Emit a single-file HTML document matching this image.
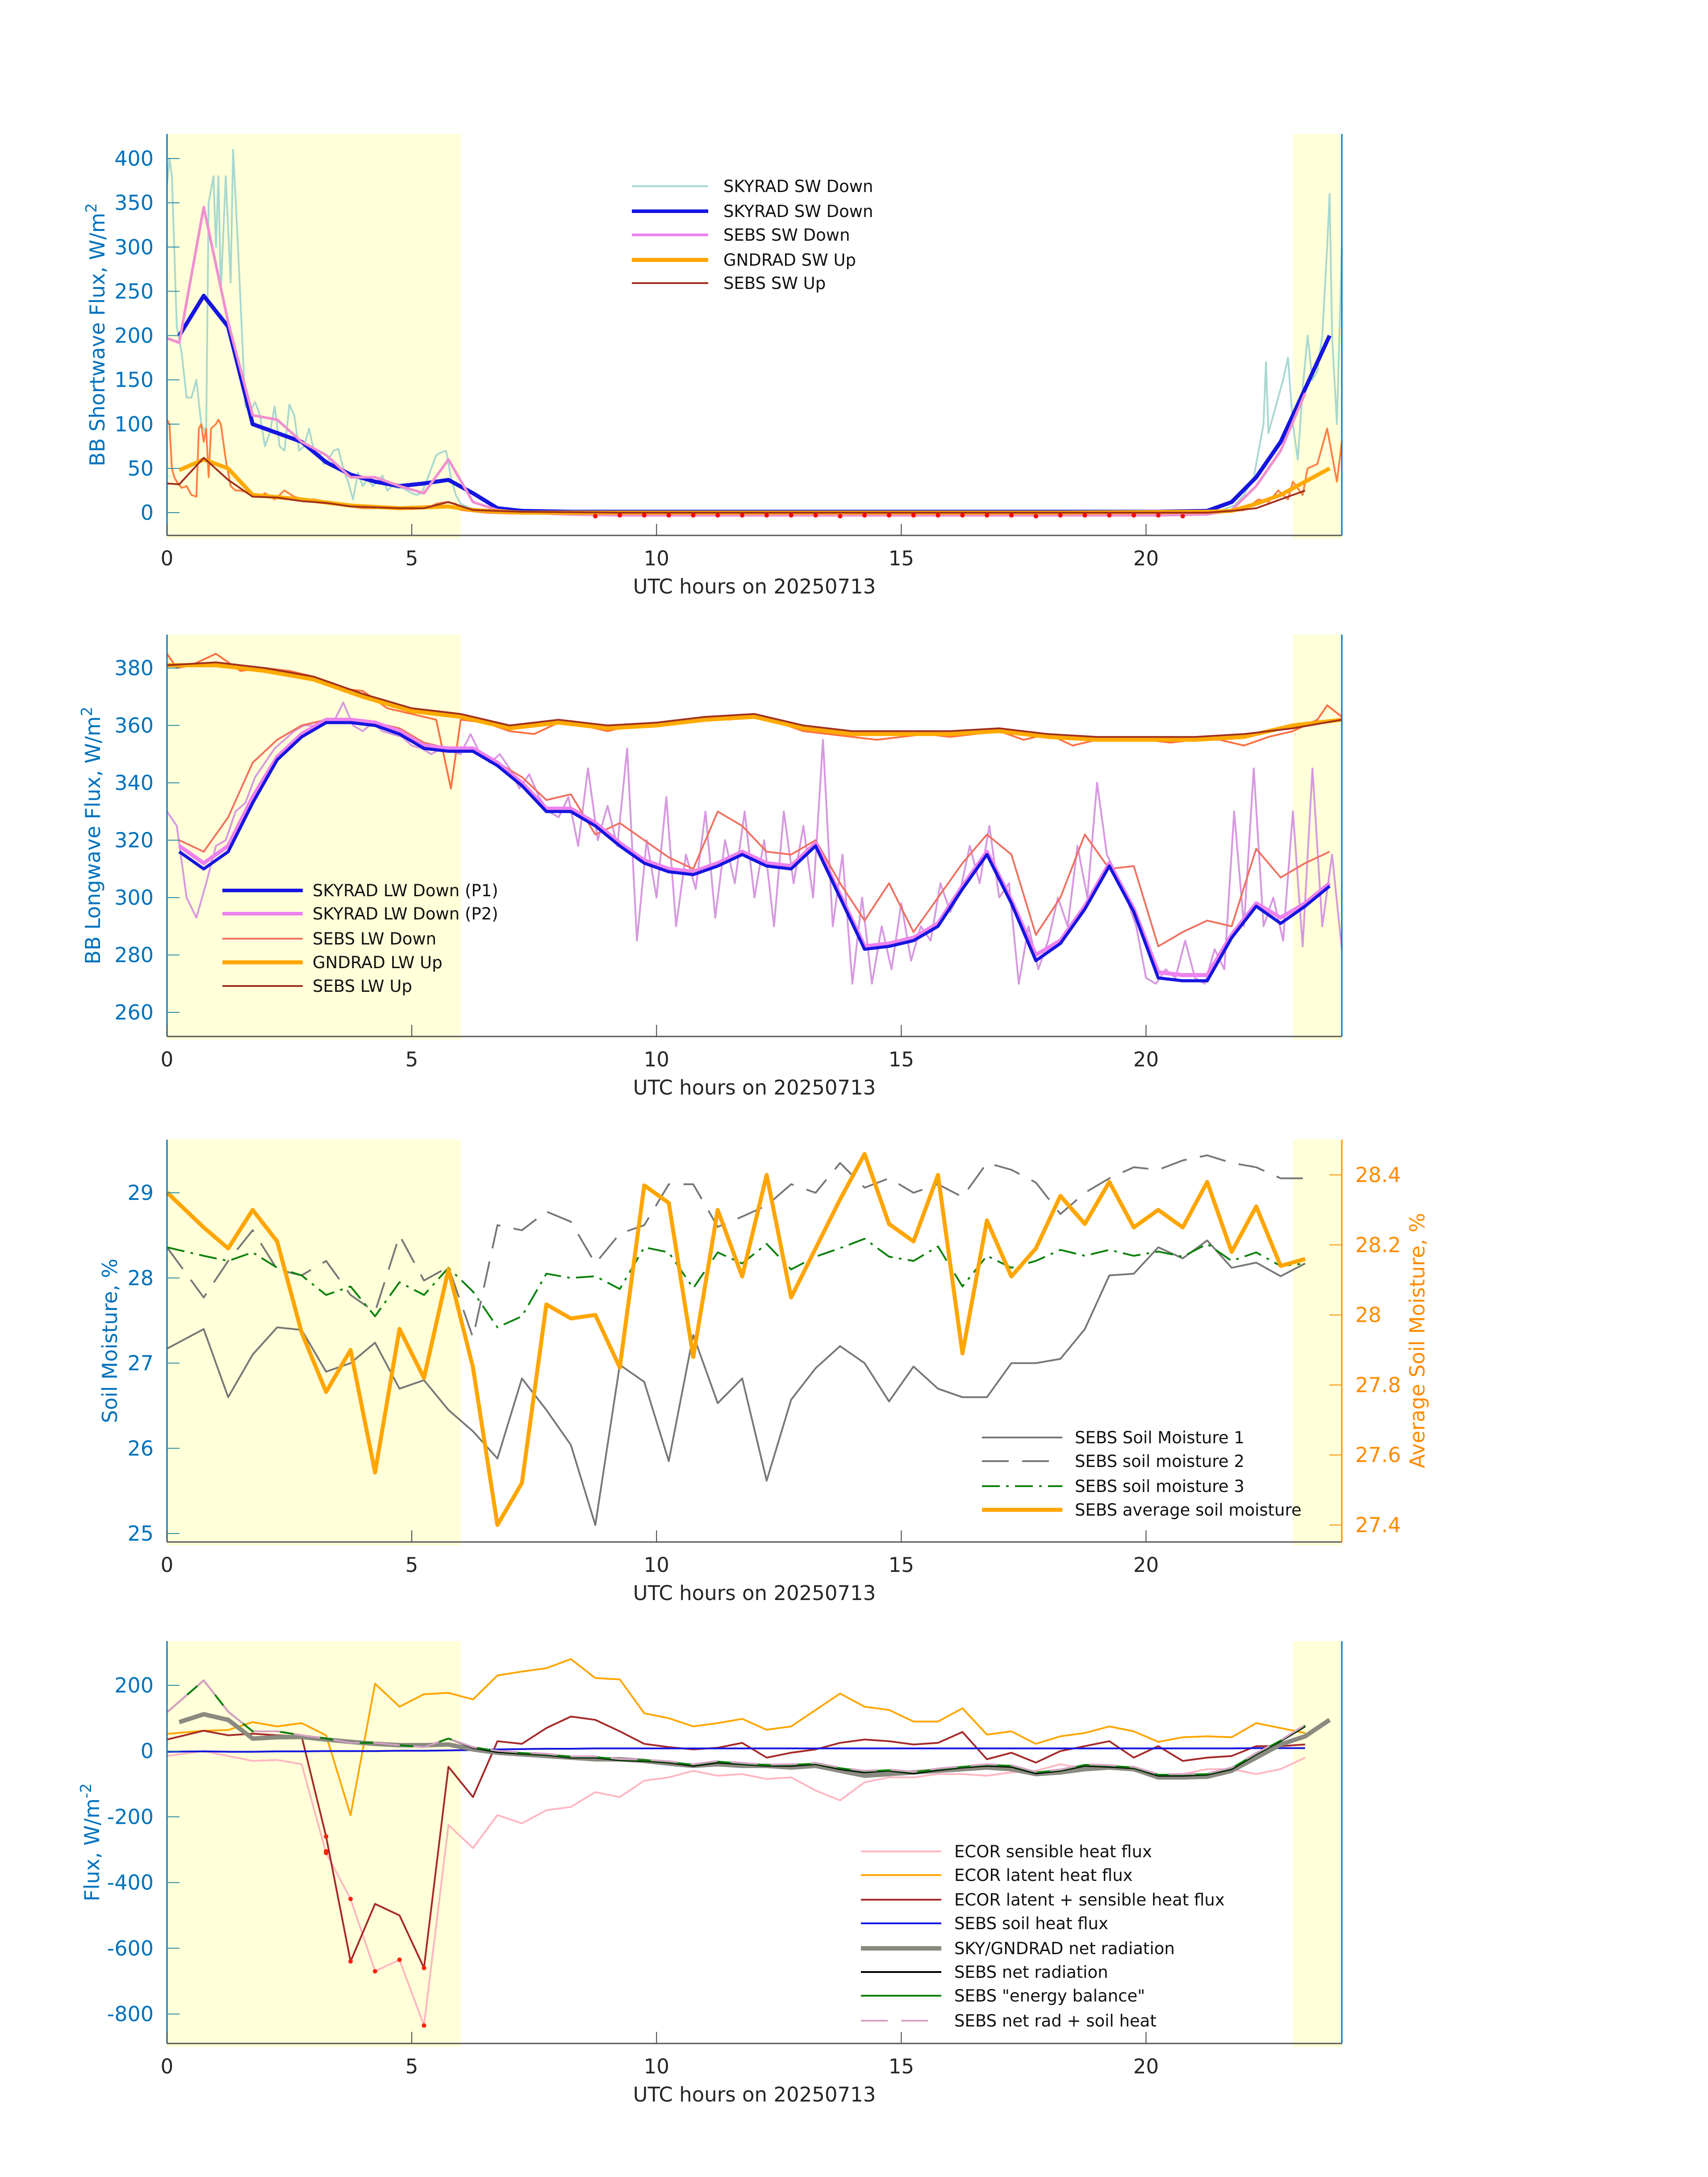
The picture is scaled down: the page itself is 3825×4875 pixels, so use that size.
<!DOCTYPE html>
<html><head><meta charset="utf-8"><style>
html,body{margin:0;padding:0;background:#fff;}
svg{display:block;font-family:"DejaVu Sans","Liberation Sans",sans-serif;}
</style></head><body>
<svg id="fig" xmlns="http://www.w3.org/2000/svg" width="3825" height="4875" viewBox="0 0 3825 4875"></svg>
<script>
// ---------- shared ----------
const xTicks = [0,5,10,15,20];
const tHalf = [0,0.75,1.25,1.75,2.25,2.75,3.25,3.75,4.25,4.75,5.25,5.75,6.25,6.75,7.25,7.75,8.25,8.75,9.25,9.75,10.25,10.75,11.25,11.75,12.25,12.75,13.25,13.75,14.25,14.75,15.25,15.75,16.25,16.75,17.25,17.75,18.25,18.75,19.25,19.75,20.25,20.75,21.25,21.75,22.25,22.75,23.25];

// ---------- panel 1 (shortwave) ----------
const p1YTicks = [0,50,100,150,200,250,300,350,400];
const swT = [0.25,0.75,1.25,1.75,2.25,2.75,3.25,3.75,4.25,4.75,5.25,5.75,6.25,6.75,7.25,8.25,9.25,10.25,11.25,12.25,13.25,14.25,15.25,16.25,17.25,18.25,19.25,20.25,21.25,21.75,22.25,22.75,23.25,23.75];
const skySwDown = [200,245,210,100,90,80,57,43,35,30,33,37,22,5,2,1,1,1,1,1,1,1,1,1,1,1,1,1,2,12,40,80,140,200];
const sebsSwDownT = [0,0.25,0.75,1.25,1.75,2.25,2.75,3.25,3.75,4.25,4.75,5.25,5.75,6.25,6.75,7.25,8.25,9.25,10.25,12.25,14.25,16.25,18.25,20.25,21.25,21.75,22.25,22.75,23.25];
const sebsSwDown = [197,192,345,215,110,105,80,65,40,40,30,22,60,12,3,0,-2,-3,-3,-3,-3,-3,-3,-3,-2,3,30,70,135];
const gndSwUpT = [0.25,0.75,1.25,1.75,2.75,3.75,4.75,5.75,6.25,7.25,9.25,12.25,15.25,18.25,21.25,21.75,22.25,22.75,23.25,23.75];
const gndSwUp = [48,60,50,20,15,8,5,7,3,0,0,0,0,0,1,2,10,20,35,50];
const sebsSwUpT = [0,0.25,0.75,1.25,1.75,2.25,2.75,3.25,3.75,4.25,4.75,5.25,5.75,6.25,7.25,9.25,12.25,15.25,18.25,21.25,21.75,22.25,22.75,23.25];
const sebsSwUp = [33,32,62,37,18,17,13,11,7,6,5,5,12,3,1,0,0,0,0,0,2,5,15,25];
const skyFineT = [0,0.05,0.1,0.2,0.3,0.4,0.5,0.6,0.7,0.8,0.85,0.95,1.0,1.05,1.1,1.2,1.3,1.35,1.45,1.55,1.6,1.7,1.8,1.9,2.0,2.1,2.2,2.3,2.4,2.5,2.6,2.7,2.8,2.9,3.0,3.1,3.2,3.3,3.4,3.5,3.6,3.7,3.8,3.9,4.0,4.1,4.2,4.3,4.4,4.5,4.6,4.7,4.8,4.9,5.0,5.1,5.2,5.3,5.5,5.6,5.7,5.8,5.9,6.0,6.2,6.5,7,10,15,20,21.5,21.8,22.0,22.2,22.4,22.45,22.5,22.6,22.7,22.8,22.9,23.0,23.1,23.2,23.3,23.4,23.5,23.6,23.7,23.75,23.8,23.9,24];
const skyFine = [370,400,380,210,180,130,130,150,100,90,350,380,300,380,250,380,260,410,300,180,120,115,125,110,75,90,120,75,70,122,110,70,75,95,70,70,55,60,70,72,50,35,15,45,30,38,30,35,42,25,30,28,28,25,22,20,22,35,65,68,70,40,20,10,5,3,1,1,1,1,2,8,20,40,100,170,90,110,130,150,175,100,60,140,200,150,160,200,300,360,200,100,300];
const sebsUpFineT = [0,0.05,0.1,0.15,0.2,0.3,0.4,0.5,0.6,0.65,0.7,0.75,0.8,0.85,0.9,1.0,1.05,1.1,1.2,1.3,1.4,1.5,1.7,1.9,2.0,2.2,2.4,2.6,2.8,3,3.3,3.6,4,4.5,5,5.3,5.5,5.7,5.9,6.0,6.5,7,10,15,20,21.5,22,22.3,22.5,22.7,22.9,23.0,23.2,23.3,23.5,23.7,23.8,23.9,24];
const sebsUpFine = [105,100,50,40,35,28,30,20,18,95,100,80,95,40,95,100,105,100,60,30,25,25,22,18,22,15,25,18,15,15,12,8,5,5,4,5,10,12,10,3,0,-1,-1,-1,-1,0,3,15,12,25,15,35,20,50,55,95,65,35,80];
const redDotsT = [8.75,9.25,9.75,10.25,10.75,11.25,11.75,12.25,12.75,13.25,13.75,14.25,14.75,15.25,15.75,16.25,16.75,17.25,17.75,18.25,18.75,19.25,19.75,20.25,20.75];
const redDotsV = [-4,-3,-3,-3,-3,-3,-3,-3,-3,-3,-4,-3,-3,-3,-3,-3,-3,-3,-4,-3,-3,-3,-3,-3,-4];

// ---------- panel 2 (longwave) ----------
const p2YTicks = [260,280,300,320,340,360,380];
const lwT = [0.25,0.75,1.25,1.75,2.25,2.75,3.25,3.75,4.25,4.75,5.25,5.75,6.25,6.75,7.25,7.75,8.25,8.75,9.25,9.75,10.25,10.75,11.25,11.75,12.25,12.75,13.25,13.75,14.25,14.75,15.25,15.75,16.25,16.75,17.25,17.75,18.25,18.75,19.25,19.75,20.25,20.75,21.25,21.75,22.25,22.75,23.25,23.75];
const skyLwP1 = [316,310,316,333,348,356,361,361,360,357,352,351,351,346,339,330,330,325,318,312,309,308,311,315,311,310,318,300,282,283,285,290,303,315,298,278,284,296,311,295,272,271,271,286,297,291,297,304];
const skyLwP2 = [318,312,318,335,349,357,362,362,361,358,353,352,352,347,340,331,331,326,319,313,310,309,312,316,312,311,319,301,283,284,286,291,304,316,299,280,285,297,312,296,274,273,273,287,298,293,298,305];
const sebsLwDown = [320,316,328,347,355,360,362,362,361,359,354,352,351,347,342,334,336,322,326,320,314,310,330,325,316,315,320,305,292,305,288,300,312,322,315,287,300,322,310,311,283,288,292,290,317,307,312,316];
const lwUpT = [0,1,2,3,4,5,6,7,8,9,10,11,12,13,14,15,16,17,18,19,20,21,22,23,24];
const gndLwUp = [381,381,379,376,370,365,363,359,361,359,360,362,363,359,357,357,357,358,356,355,355,355,356,360,362];
const sebsLwUp = [381,382,380,377,371,366,364,360,362,360,361,363,364,360,358,358,358,359,357,356,356,356,357,359,362];
const lwFineT = [0,0.2,0.4,0.6,0.8,1.0,1.2,1.4,1.6,1.8,2.0,2.2,2.4,2.6,2.8,3.0,3.2,3.4,3.6,3.8,4.0,4.2,4.4,4.6,4.8,5.0,5.2,5.4,5.6,5.8,6.0,6.2,6.4,6.6,6.8,7.0,7.2,7.4,7.6,7.8,8.0,8.2,8.4,8.6,8.8,9.0,9.2,9.4,9.6,9.8,10.0,10.2,10.4,10.6,10.8,11.0,11.2,11.4,11.6,11.8,12.0,12.2,12.4,12.6,12.8,13.0,13.2,13.4,13.6,13.8,14.0,14.2,14.4,14.6,14.8,15.0,15.2,15.4,15.6,15.8,16.0,16.2,16.4,16.6,16.8,17.0,17.2,17.4,17.6,17.8,18.0,18.2,18.4,18.6,18.8,19.0,19.2,19.4,19.6,19.8,20.0,20.2,20.4,20.6,20.8,21.0,21.2,21.4,21.6,21.8,22.0,22.2,22.4,22.6,22.8,23.0,23.2,23.4,23.6,23.8,24.0];
const lwFine = [330,325,300,293,305,318,320,330,333,342,347,352,355,358,360,360,362,361,368,360,358,361,358,357,356,353,352,350,352,351,350,357,350,347,350,345,338,343,335,330,328,335,318,345,320,332,318,352,285,320,300,335,290,315,303,330,293,320,305,330,300,320,290,330,305,325,300,355,290,315,270,300,270,290,275,298,278,290,285,305,295,302,318,305,325,300,305,270,290,275,285,300,290,318,300,340,315,308,300,290,272,270,275,272,285,272,270,282,275,330,290,345,290,300,285,330,283,345,290,315,282];
const lwUpFineT = [0,0.2,0.5,1,1.5,2,2.5,3,3.5,4,4.5,5,5.5,5.8,6,6.5,7,7.5,8,8.5,9,9.5,10,10.5,11,11.5,12,12.5,13,13.5,14,14.5,15,15.5,16,16.5,17,17.5,18,18.5,19,19.5,20,20.5,21,21.5,22,22.5,23,23.5,23.7,24];
const lwUpFine = [385,380,381,385,379,380,379,377,373,372,366,364,362,338,362,361,358,357,361,360,358,360,360,362,363,362,364,361,358,357,356,355,356,357,356,357,358,355,357,353,355,356,355,354,355,355,353,356,358,362,367,363];

// ---------- panel 3 (soil moisture) ----------
const p3YTicks = [25,26,27,28,29];
const p3Y2Ticks = [27.4,27.6,27.8,28,28.2,28.4];
const soil1 = [27.17,27.4,26.6,27.1,27.42,27.39,26.9,27.0,27.24,26.7,26.8,26.45,26.2,25.88,26.82,26.45,26.04,25.1,26.98,26.78,25.85,27.33,26.53,26.82,25.62,26.57,26.94,27.2,27.0,26.55,26.96,26.7,26.6,26.6,27.0,27.0,27.05,27.4,28.03,28.05,28.36,28.23,28.44,28.12,28.18,28.02,28.17];
const soil2 = [28.36,27.77,28.2,28.56,28.1,28.03,28.2,27.8,27.6,28.5,27.97,28.13,27.3,28.62,28.56,28.78,28.66,28.17,28.52,28.62,29.1,29.1,28.6,28.72,28.85,29.1,29.0,29.35,29.06,29.17,29.0,29.1,28.95,29.35,29.27,29.12,28.75,29.0,29.17,29.3,29.27,29.38,29.44,29.35,29.3,29.17,29.17];
const soil3 = [28.36,28.26,28.2,28.3,28.12,28.03,27.8,27.9,27.55,27.95,27.8,28.12,27.84,27.42,27.55,28.05,28.0,28.02,27.87,28.36,28.3,27.88,28.3,28.17,28.4,28.1,28.25,28.35,28.46,28.25,28.2,28.37,27.9,28.26,28.12,28.2,28.33,28.26,28.33,28.26,28.31,28.25,28.4,28.2,28.3,28.14,28.17];
const soilAvg = [28.35,28.25,28.19,28.3,28.21,27.95,27.78,27.9,27.55,27.96,27.82,28.13,27.85,27.4,27.52,28.03,27.99,28.0,27.85,28.37,28.32,27.88,28.3,28.11,28.4,28.05,28.19,28.33,28.46,28.26,28.21,28.4,27.89,28.27,28.11,28.19,28.34,28.26,28.38,28.25,28.3,28.25,28.38,28.18,28.31,28.14,28.16];

// ---------- panel 4 (fluxes) ----------
const p4YTicks = [-800,-600,-400,-200,0,200];
const ecorLatent = [52,62,64,88,75,85,48,-195,205,135,173,177,157,230,242,252,280,222,218,115,100,75,85,98,65,75,125,175,135,125,90,90,130,50,60,22,45,55,75,60,28,42,45,42,85,70,55];
const ecorSensible = [-15,0,-15,-30,-27,-40,-310,-450,-670,-635,-835,-225,-295,-195,-220,-180,-170,-125,-140,-90,-80,-60,-75,-70,-85,-80,-120,-150,-95,-80,-80,-70,-70,-75,-65,-60,-40,-55,-45,-60,-80,-70,-55,-55,-70,-55,-20];
const ecorSum = [35,62,48,53,48,45,-260,-640,-465,-500,-660,-48,-140,30,22,70,105,95,60,22,12,5,10,25,-20,-5,5,25,35,30,20,25,58,-25,-5,-35,0,15,30,-20,15,-30,-20,-15,15,15,20];
const soilHeat = [-2,-1,-2,-2,-1,-1,0,0,0,1,1,2,3,5,6,7,7,8,8,8,8,8,8,8,8,8,8,8,8,8,8,8,8,8,8,8,8,8,8,8,8,8,8,8,9,9,9];
const netRadT = [0.25,0.75,1.25,1.75,2.25,2.75,3.25,3.75,4.25,4.75,5.25,5.75,6.25,6.75,7.25,7.75,8.25,8.75,9.25,9.75,10.25,10.75,11.25,11.75,12.25,12.75,13.25,13.75,14.25,14.75,15.25,15.75,16.25,16.75,17.25,17.75,18.25,18.75,19.25,19.75,20.25,20.75,21.25,21.75,22.25,22.75,23.25,23.75];
const skyNet = [88,112,95,38,42,43,35,28,22,18,18,20,5,-5,-10,-15,-20,-25,-25,-30,-38,-45,-40,-45,-45,-50,-45,-60,-75,-70,-65,-60,-55,-50,-55,-70,-65,-55,-50,-55,-80,-80,-78,-60,-20,20,45,95];
const sebsNet = [118,215,120,60,60,48,38,25,25,18,12,38,10,-3,-8,-12,-20,-20,-28,-30,-35,-45,-35,-40,-45,-45,-40,-55,-65,-60,-68,-58,-50,-45,-48,-68,-60,-45,-48,-52,-75,-75,-72,-55,-10,30,75];
const sebsBal = [118,215,120,60,60,48,38,25,25,18,12,38,12,0,-6,-10,-18,-18,-26,-28,-33,-42,-32,-38,-43,-42,-38,-52,-62,-58,-65,-55,-48,-42,-45,-65,-58,-42,-45,-50,-72,-72,-70,-52,-8,32,78];
const netPlusSoil = [118,215,120,60,60,48,38,25,25,18,12,38,12,1,-4,-8,-16,-16,-24,-26,-31,-40,-30,-36,-41,-40,-36,-50,-60,-56,-63,-53,-46,-40,-43,-63,-56,-40,-43,-48,-70,-70,-68,-50,-6,33,80];
const sensDotsT = [3.25,3.75,4.25,4.75,5.25];
const sensDotsV = [-310,-450,-670,-635,-835];
const sumDotsT = [3.25,3.75,5.25];
const sumDotsV = [-260,-640,-660];
const sumDots2T = [3.25];
const sumDots2V = [-305];

// ---------- drawing ----------
const NS = "http://www.w3.org/2000/svg";
const svg = document.getElementById('fig');
const X0 = 374, X1 = 3005, XMAX = 24;
function sx(h){ return X0 + (X1 - X0) * h / XMAX; }
function mk(tag, attrs, parent){
  const e = document.createElementNS(NS, tag);
  for (const k in attrs) e.setAttribute(k, attrs[k]);
  (parent || svg).appendChild(e);
  return e;
}
function makeY(v0, p0, v1, p1){ return v => p0 + (v - v0) * (p1 - p0) / (v1 - v0); }

function panel(name, top, bottom, sy, yTicks, yLabel, yLabelX, fmt){
  const g = mk('g', {});
  
  
  const y1 = mk('rect', {x: sx(0), y: top, width: sx(6) - sx(0), height: bottom - top + 8, fill: '#ffffd9'}, g);
  
  
  const y2 = mk('rect', {x: sx(23), y: top, width: sx(24) - sx(23), height: bottom - top + 8, fill: '#ffffd9'}, g);
  
  
  const plot = mk('g', {}, g);
  
  
  const ax = mk('g', {}, g);
  
  
  const la = mk('line', {x1: X0, y1: top, x2: X0, y2: bottom, stroke: '#0072bd', 'stroke-width': 3}, ax);
  
  
  const ra = mk('line', {x1: X1, y1: top, x2: X1, y2: bottom, stroke: '#0072bd', 'stroke-width': 3}, ax);
  
  
  const ba = mk('line', {x1: X0, y1: bottom, x2: X1, y2: bottom, stroke: '#555', 'stroke-width': 3}, ax);
  
  
  xTicks.forEach(t => {
    const tk = mk('line', {x1: sx(t), y1: bottom, x2: sx(t), y2: bottom - 26, stroke: '#444', 'stroke-width': 2}, ax);
    
    
    const tl = mk('text', {x: sx(t), y: bottom + 67, 'text-anchor': 'middle', 'font-size': 45, fill: '#262626'}, ax);
    tl.textContent = String(t);
    
    
  });
  const xt = mk('text', {x: (X0 + X1) / 2, y: bottom + 130, 'text-anchor': 'middle', 'font-size': 45, fill: '#262626'}, ax);
  xt.textContent = 'UTC hours on 20250713';
  
  
  yTicks.forEach(v => {
    const y = sy(v);
    const tk = mk('line', {x1: X0, y1: y, x2: X0 + 28, y2: y, stroke: '#2a8aa8', 'stroke-width': 2}, ax);
    
    
    const tl = mk('text', {x: X0 - 30, y: y + 16, 'text-anchor': 'end', 'font-size': 46, fill: '#0072bd'}, ax);
    tl.textContent = fmt ? fmt(v) : String(v);
    
    
  });
  const cy = (top + bottom) / 2;
  const yl = mk('text', {x: yLabelX, y: cy, 'text-anchor': 'middle', 'font-size': 46, fill: '#0072bd', transform: `rotate(-90 ${yLabelX} ${cy})`}, ax);
  yl.innerHTML = yLabel;
  
  
  return {plot, ax, g};
}
function line(parent, name, ts, vs, sy, color, w, dash, opacity){
  const d = ts.map((t, i) => (i ? 'L' : 'M') + sx(t).toFixed(1) + ' ' + sy(vs[i]).toFixed(1)).join(' ');
  const p = mk('path', {d: d, fill: 'none', stroke: color, 'stroke-width': w, 'stroke-linejoin': 'round', 'stroke-linecap': 'butt'}, parent);
  if (dash) p.setAttribute('stroke-dasharray', dash);
  if (opacity) p.setAttribute('opacity', opacity);
  
  
  return p;
}
function dots(parent, name, ts, vs, sy, color, r){
  ts.forEach((t, i) => {
    const c = mk('circle', {cx: sx(t), cy: sy(vs[i]), r: r, fill: color}, parent);
    
    
  });
}
function legend(name, lx0, lx1, tx, rows, entries){
  const g = mk('g', {});
  
  
  entries.forEach((e, i) => {
    const y = rows[i];
    const l = mk('line', {x1: lx0, y1: y, x2: lx1, y2: y, stroke: e[1], 'stroke-width': e[2]}, g);
    if (e[3]) l.setAttribute('stroke-dasharray', e[3]);
    
    
    const t = mk('text', {x: tx, y: y + 13, 'font-size': 37, fill: '#111'}, g);
    t.textContent = e[0];
    
    
  });
}

// Panel 1
const sy1 = makeY(0, 1148, 400, 355);
const P1 = panel('shortwave-panel', 300, 1199, sy1, p1YTicks, 'BB Shortwave Flux, W/m<tspan dy="-18" font-size="34">2</tspan>', 234);
line(P1.plot, 'skyrad-sw-down-fine', skyFineT, skyFine, sy1, '#a8d8d0', 4);
line(P1.plot, 'sebs-sw-up-fine', sebsUpFineT, sebsUpFine, sy1, '#ff8040', 4);
line(P1.plot, 'skyrad-sw-down', swT, skySwDown, sy1, '#1515e0', 9);
line(P1.plot, 'sebs-sw-down', sebsSwDownT, sebsSwDown, sy1, '#f090d0', 6);
line(P1.plot, 'gndrad-sw-up', gndSwUpT, gndSwUp, sy1, '#ffaa00', 9);
line(P1.plot, 'sebs-sw-up', sebsSwUpT, sebsSwUp, sy1, '#a0301e', 4);
dots(P1.plot, 'sw-marker', redDotsT, redDotsV, sy1, '#ff0000', 5);
legend('shortwave-legend', 1415, 1586, 1620, [417,473,526,582,634], [
  ['SKYRAD SW Down', '#a8d8d8', 4],
  ['SKYRAD SW Down', '#1515e0', 8],
  ['SEBS SW Down', '#ee82ee', 6],
  ['GNDRAD SW Up', '#ffa500', 9],
  ['SEBS SW Up', '#a0301e', 4]
]);

// Panel 2
const sy2 = makeY(260, 2267, 380, 1496);
const P2 = panel('longwave-panel', 1421, 2321, sy2, p2YTicks, 'BB Longwave Flux, W/m<tspan dy="-18" font-size="34">2</tspan>', 224);
line(P2.plot, 'skyrad-lw-down-fine', lwFineT, lwFine, sy2, '#a8cce0', 4);
line(P2.plot, 'skyrad-lw-down-fine-p2', lwFineT, lwFine, sy2, '#d898e0', 4);
line(P2.plot, 'sebs-lw-up-fine', lwUpFineT, lwUpFine, sy2, '#ff7040', 4);
line(P2.plot, 'sebs-lw-down', lwT, sebsLwDown, sy2, '#f07060', 4);
line(P2.plot, 'skyrad-lw-down-p2', lwT, skyLwP2, sy2, '#ee82ee', 9);
line(P2.plot, 'skyrad-lw-down-p1', lwT, skyLwP1, sy2, '#1515e0', 7);
line(P2.plot, 'gndrad-lw-up', lwUpT, gndLwUp, sy2, '#ffaa00', 9);
line(P2.plot, 'sebs-lw-up', lwUpT, sebsLwUp, sy2, '#a0301e', 4);
legend('longwave-legend', 498, 678, 700, [1994,2046,2102,2155,2208], [
  ['SKYRAD LW Down (P1)', '#1515e0', 8],
  ['SKYRAD LW Down (P2)', '#ee82ee', 8],
  ['SEBS LW Down', '#f07060', 4],
  ['GNDRAD LW Up', '#ffa500', 9],
  ['SEBS LW Up', '#a0301e', 4]
]);

// Panel 3
const sy3 = makeY(25, 3434, 29, 2671);
const sy3r = makeY(27.4, 3415, 28.4, 2631);
const P3 = panel('soil-moisture-panel', 2552, 3453, sy3, p3YTicks, 'Soil Moisture, %', 262);
line(P3.plot, 'soil-moisture-1', tHalf, soil1, sy3, '#777', 4);
line(P3.plot, 'soil-moisture-2', tHalf, soil2, sy3, '#777', 4, '60,30');
line(P3.plot, 'soil-moisture-3', tHalf, soil3, sy3, '#0a800a', 4, '40,14,6,14');
line(P3.plot, 'average-soil-moisture', tHalf, soilAvg, sy3r, '#ffa500', 9);
const rax = mk('g', {});


const rl = mk('line', {x1: X1, y1: 2552, x2: X1, y2: 3453, stroke: '#ff8c00', 'stroke-width': 3}, rax);


p3Y2Ticks.forEach(v => {
  const y = sy3r(v);
  const tk = mk('line', {x1: X1, y1: y, x2: X1 - 28, y2: y, stroke: '#ff8c00', 'stroke-width': 2}, rax);
  
  
  const tl = mk('text', {x: X1 + 30, y: y + 16, 'font-size': 46, fill: '#ff8c00'}, rax);
  tl.textContent = (Math.round(v * 10) / 10).toString();
  
  
});
const ryl = mk('text', {x: 3190, y: 3002, 'text-anchor': 'middle', 'font-size': 46, fill: '#ff8c00', transform: 'rotate(-90 3190 3002)'}, rax);
ryl.textContent = 'Average Soil Moisture, %';


legend('soil-legend', 2199, 2379, 2407, [3219,3272,3328,3381], [
  ['SEBS Soil Moisture 1', '#777', 4],
  ['SEBS soil moisture 2', '#777', 4, '60,30'],
  ['SEBS soil moisture 3', '#0a800a', 4, '40,14,6,14'],
  ['SEBS average soil moisture', '#ffa500', 9]
]);

// Panel 4
const sy4 = makeY(-800, 4510, 200, 3774);
const P4 = panel('flux-panel', 3675, 4576, sy4, p4YTicks, 'Flux, W/m<tspan dy="-18" font-size="34">-2</tspan>', 222);
line(P4.plot, 'ecor-sensible-heat-flux', tHalf, ecorSensible, sy4, '#ffb6c1', 4);
line(P4.plot, 'ecor-latent-heat-flux', tHalf, ecorLatent, sy4, '#ffa500', 4);
line(P4.plot, 'ecor-latent-plus-sensible', tHalf, ecorSum, sy4, '#a52a2a', 4);
line(P4.plot, 'sebs-soil-heat-flux', tHalf, soilHeat, sy4, '#1515e0', 4);
line(P4.plot, 'sky-gndrad-net-radiation', netRadT, skyNet, sy4, '#8a8a80', 10);
line(P4.plot, 'sebs-net-radiation', tHalf, sebsNet, sy4, '#000', 4);
line(P4.plot, 'sebs-energy-balance', tHalf, sebsBal, sy4, '#0a800a', 4);
line(P4.plot, 'sebs-net-rad-plus-soil-heat', tHalf, netPlusSoil, sy4, '#d8a0c8', 4, '60,30');
dots(P4.plot, 'sensible-marker', sensDotsT, sensDotsV, sy4, '#ff2000', 5);
dots(P4.plot, 'sum-marker', sumDotsT, sumDotsV, sy4, '#ff2000', 5);
dots(P4.plot, 'sum-marker', sumDots2T, sumDots2V, sy4, '#ff2000', 5);
legend('flux-legend', 1928, 2108, 2137, [4146,4199,4254,4307,4363,4416,4469,4525], [
  ['ECOR sensible heat flux', '#ffb6c1', 4],
  ['ECOR latent heat flux', '#ffa500', 4],
  ['ECOR latent + sensible heat flux', '#a52a2a', 4],
  ['SEBS soil heat flux', '#1515e0', 4],
  ['SKY/GNDRAD net radiation', '#8a8a80', 10],
  ['SEBS net radiation', '#000', 4],
  ['SEBS "energy balance"', '#0a800a', 4],
  ['SEBS net rad + soil heat', '#d8a0c8', 4, '60,30']
]);
</script>
</body></html>
